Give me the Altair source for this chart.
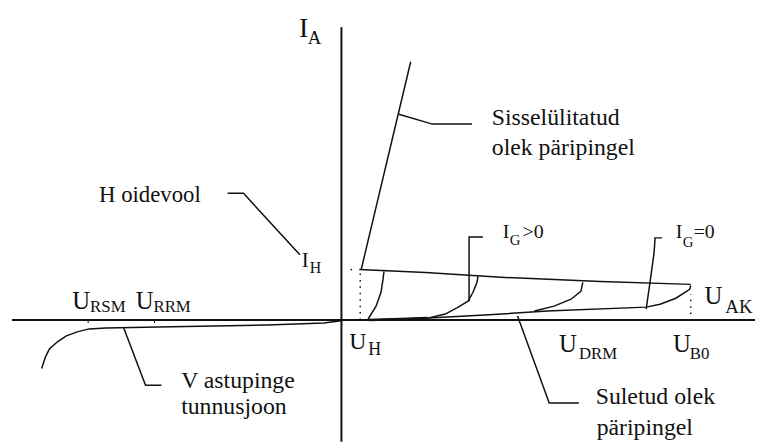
import altair as alt
import pandas as pd

# Diagram coordinates: U (anode voltage, horizontal), I (anode current, vertical).
# Origin at the crossing of the axes.
on_u = [20, 70]                     # on-state (Sisselülitatud olek)
on_i = [51, 261]
hold_u = [18, 85, 165, 262, 353]    # line through holding point to breakover
hold_i = [51, 48, 43, 39, 36]
block_u = [0, 30, 88, 145, 208, 308, 322, 338, 352, 353]   # I_G = 0 blocking curve
block_i = [0, 0, 2, 5, 9, 13, 16, 22, 31, 35]
ig1_u = [27, 35, 40, 42, 43]
ig1_i = [1, 14, 28, 41, 49]
ig2_u = [88, 105, 118, 128, 133, 137, 138]
ig2_i = [2, 6, 13, 19, 28, 38, 44]
ig3_u = [195, 215, 232, 242, 244]
ig3_i = [9, 14, 21, 29, 38]
rev_u = [-303, -299, -295, -287, -278, -267, -255, -238, -185, -75, -18, -2, 0]
rev_i = [-49, -37, -29, -22, -16, -12, -9, -8, -7, -5, -3, -1, 0]
thick_u = [28, 60, 87]
thick_i = [0, 1, 2]

# leader lines
lead_on_u, lead_on_i = [58, 92, 132], [208, 198, 198]
lead_hold_u, lead_hold_i = [-115, -99, -42], [128, 128, 66]
lead_rev_u, lead_rev_i = [-220, -198, -182], [-8, -66, -66]
lead_off_u, lead_off_i = [178, 210, 240], [4, -84, -84]
lead_igp_u, lead_igp_i = [129, 129, 143], [19, 84, 84]
lead_ig0_u, lead_ig0_i = [308, 312, 316, 317, 324], [11, 39, 68, 83, 83]

# dotted guides
dot_uh_u, dot_uh_i = [19, 19], [0, 51]
dot_ub_u, dot_ub_i = [353, 353], [6, 26]
dot_pt_u, dot_pt_i = [10], [51]

# axes
axis_h_u, axis_h_i = [-333, 418], [0, 0]
axis_v_u, axis_v_i = [0, 0], [-123, 296]
tick_u = [-256, -189]

# labels: text, u, i, font size
lab_text = ["I", "A", "I", "H", "H oidevool",
            "U", "RSM", "U", "RRM", "U", "H", "U", "DRM", "U", "B0", "U", "AK",
            "I", "G", ">0", "I", "G", "=0",
            "Sisselülitatud", "olek päripingel", "V astupinge", "tunnusjoon",
            "Suletud olek", "päripingel"]
lab_u = [-43, -34, -40, -32, -245,
         -272, -254, -208, -190, 8, 27, 220, 240, 335, 352, 367, 388,
         163, 170, 183, 338, 345, 356,
         152, 152, -162, -162, 257, 258]
lab_i = [286, 279, 54, 47, 119,
         11, 8, 11, 8, -29, -35, -32, -39, -32, -39, 16, 7,
         83, 76, 83, 83, 74, 83,
         197, 167, -69, -95, -85, -116]
lab_fs = [28, 19, 21, 16, 23,
          25, 17, 25, 17, 24, 18, 25, 17, 25, 17, 25, 19,
          20, 15, 20, 20, 15, 20,
          24, 24, 24, 24, 24, 24]


def make(groups):
    rows = []
    for gid, (us, is_) in enumerate(groups):
        for k, (u, i) in enumerate(zip(us, is_)):
            rows.append({"id": gid, "k": k, "u": u, "i": i})
    return pd.DataFrame(rows)


solid = make([(on_u, on_i), (hold_u, hold_i), (block_u, block_i), (ig1_u, ig1_i),
              (ig2_u, ig2_i), (ig3_u, ig3_i), (rev_u, rev_i),
              (lead_on_u, lead_on_i), (lead_hold_u, lead_hold_i),
              (lead_rev_u, lead_rev_i), (lead_off_u, lead_off_i),
              (lead_igp_u, lead_igp_i), (lead_ig0_u, lead_ig0_i)])
thick = make([(thick_u, thick_i)])
dotted = make([(dot_uh_u, dot_uh_i), (dot_ub_u, dot_ub_i)])
axes = make([(axis_h_u, axis_h_i), (axis_v_u, axis_v_i)])
ticks = make([([t, t], [0, -3]) for t in tick_u])
pts = pd.DataFrame({"u": dot_pt_u, "i": dot_pt_i})
labels = pd.DataFrame({"t": lab_text, "u": lab_u, "i": lab_i, "fs": lab_fs})

xs = alt.Scale(domain=[-337, 418], nice=False, zero=False)
ys = alt.Scale(domain=[-123, 313], nice=False, zero=False)
X = alt.X("u:Q", scale=xs, axis=None)
Y = alt.Y("i:Q", scale=ys, axis=None)

ink = "#111111"
base_enc = dict(x=X, y=Y, detail="id:N", order="k:Q")

axes_l = alt.Chart(axes).mark_line(color=ink, strokeWidth=2).encode(**base_enc)
ticks_l = alt.Chart(ticks).mark_line(color=ink, strokeWidth=1).encode(**base_enc)
solid_l = alt.Chart(solid).mark_line(color=ink, strokeWidth=1.5).encode(**base_enc)
thick_l = alt.Chart(thick).mark_line(color=ink, strokeWidth=2.6).encode(**base_enc)
dot_l = alt.Chart(dotted).mark_line(color=ink, strokeWidth=1.5, strokeDash=[1.5, 5]).encode(**base_enc)
pt_l = alt.Chart(pts).mark_point(filled=True, color=ink, size=3, opacity=1).encode(x=X, y=Y)
text_l = alt.Chart(labels).mark_text(
    align="left", baseline="alphabetic", font="Liberation Serif", color=ink
).encode(x=X, y=Y, text="t:N", size=alt.Size("fs:Q", scale=None))

chart = alt.layer(axes_l, ticks_l, solid_l, thick_l, dot_l, pt_l, text_l).properties(
    width=755, height=436, autosize=alt.AutoSizeParams(type="none"), padding=0
).configure_view(stroke=None)

chart.save("out.html", embed_options={"renderer": "svg", "actions": False})
